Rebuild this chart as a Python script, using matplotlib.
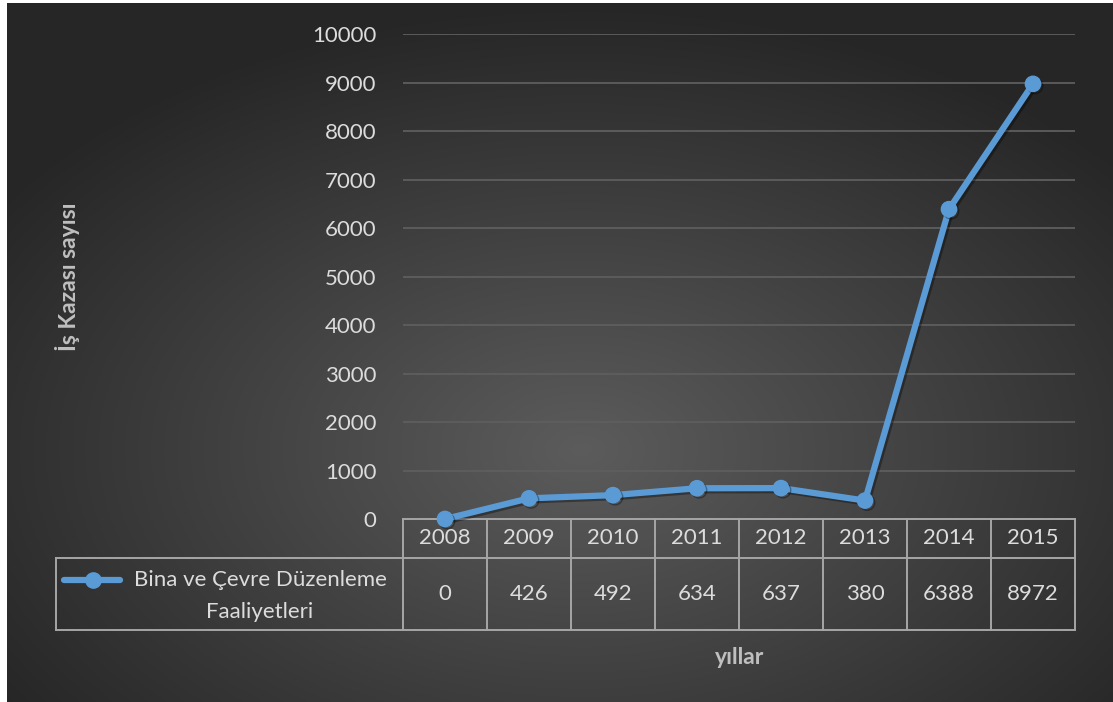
import numpy as np
import matplotlib
matplotlib.use("Agg")
from matplotlib import pyplot as plt
import matplotlib.patheffects as pe

years = ["2008", "2009", "2010", "2011", "2012", "2013", "2014", "2015"]
values = [0, 426, 492, 634, 637, 380, 6388, 8972]
series_name = "Bina ve Çevre Düzenleme\nFaaliyetleri"
y_ticks = [0, 1000, 2000, 3000, 4000, 5000, 6000, 7000, 8000, 9000, 10000]

plt.rcParams["font.family"] = ["Lato", "DejaVu Sans"]
W, H = 1113, 702
fig = plt.figure(figsize=(W / 100, H / 100), dpi=100)
fig.patch.set_facecolor("white")

# radial gradient background
bg = fig.add_axes([7 / W, 0, 1 - 7 / W, 1 - 3 / H])
bg.set_axis_off()
gx, gy = np.meshgrid(np.linspace(0, 1, 400), np.linspace(0, 1, 260))
r = np.sqrt(((gx - 0.52) / 0.75) ** 2 + ((gy - 0.64) / 0.75) ** 2)
r = np.clip(r / 0.85, 0, 1)
c_in, c_out = np.array([0.36, 0.36, 0.36]), np.array([0.15, 0.15, 0.15])
img = c_in[None, None, :] * (1 - r[..., None]) + c_out[None, None, :] * r[..., None]
bg.imshow(img, aspect="auto", extent=[0, 1, 0, 1], origin="upper")

fs = 16
txt_col = "#dcdcdc"

# plot area in pixel units
left, right, top, bottom = 403, 1075, 34, 519
ax = fig.add_axes([left / W, 1 - bottom / H, (right - left) / W, (bottom - top) / H])
ax.patch.set_alpha(0)
x = np.arange(len(years))
ax.set_xlim(-0.5, len(years) - 0.5)
ax.set_ylim(0, 10000)
ax.set_yticks(y_ticks)
ax.set_yticklabels([str(t) for t in y_ticks])
ax.set_xticks([])
for s in ax.spines.values():
    s.set_visible(False)
ax.tick_params(axis="y", length=0, pad=19, labelsize=fs, labelcolor=txt_col)
for t in y_ticks[1:]:
    ax.axhline(t, color="#5e5e5e", lw=1.3, zorder=1)

line_col = "#5b9bd5"
shadow = [pe.SimpleLineShadow(offset=(1.5, -1.5), shadow_color="black", alpha=0.35), pe.Normal()]
ax.plot(x, values, color=line_col, lw=4.5, marker="o", ms=11, solid_capstyle="round",
        zorder=3, clip_on=False, path_effects=shadow)

# data table below the axes
tc = "#a6a6a6"
tlw = 1.4
h_axes = bottom - top
y_hdr = -(558 - bottom) / h_axes
y_bot = -(630 - bottom) / h_axes
x_leg = -(left - 56) / (right - left)
tr = ax.transAxes
blend = matplotlib.transforms.blended_transform_factory(ax.transData, ax.transAxes)

ax.plot([0, 1], [0, 0], transform=tr, color=tc, lw=tlw, clip_on=False, zorder=2)
ax.plot([x_leg, 1], [y_hdr, y_hdr], transform=tr, color=tc, lw=tlw, clip_on=False)
ax.plot([x_leg, 1], [y_bot, y_bot], transform=tr, color=tc, lw=tlw, clip_on=False)
ax.plot([x_leg, x_leg], [y_hdr, y_bot], transform=tr, color=tc, lw=tlw, clip_on=False)
for i in range(len(years) + 1):
    ax.plot([i - 0.5, i - 0.5], [0, y_bot], transform=blend, color=tc, lw=tlw, clip_on=False)
for i, (yr, v) in enumerate(zip(years, values)):
    ax.text(i, y_hdr / 2, yr, transform=blend, ha="center", va="center",
            fontsize=fs, color=txt_col)
    ax.text(i, (y_hdr + y_bot) / 2, str(v), transform=blend, ha="center", va="center",
            fontsize=fs, color=txt_col)

# legend key inside the table
ly = 1 - 580 / H
fig.add_artist(matplotlib.lines.Line2D([64 / W, 120 / W], [ly, ly], color=line_col, lw=4.5,
                                       solid_capstyle="round"))
fig.add_artist(matplotlib.lines.Line2D([93 / W], [ly], color=line_col, marker="o", ms=11))
fig.text(260 / W, 1 - 596 / H, series_name, ha="center", va="center", fontsize=fs,
         color=txt_col, linespacing=1.7)

# axis titles
fig.text(68 / W, 1 - 277 / H, "İş Kazası sayısı", rotation=90, ha="center", va="center",
         fontsize=16.5, fontweight="bold", color="#bfbfbf")
fig.text(740 / W, 1 - 658 / H, "yıllar", ha="center", va="center",
         fontsize=16.5, fontweight="bold", color="#bfbfbf")

fig.savefig("out.png", dpi=100)
